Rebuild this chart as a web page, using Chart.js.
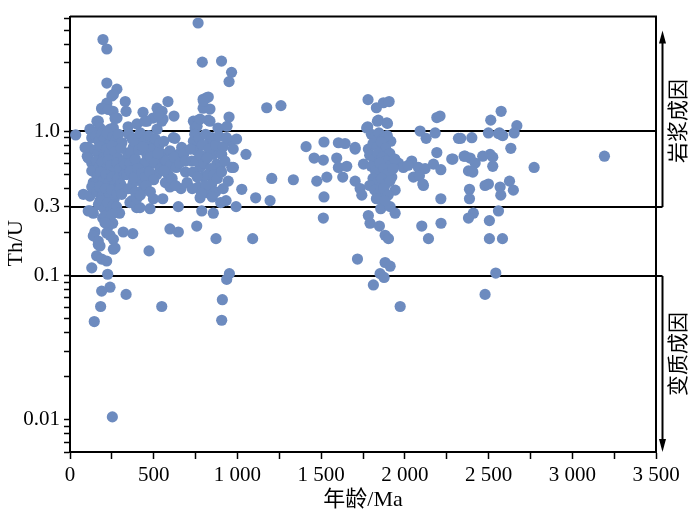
<!DOCTYPE html>
<html><head><meta charset="utf-8">
<script src="https://cdn.jsdelivr.net/npm/chart.js@4"></script>
<style>html,body{margin:0;padding:0;background:#fff}#wrap{width:700px;height:516px}</style>
</head><body><div id="wrap"><canvas id="c" width="700" height="516"></canvas></div>
<script>
const xTitle = '年龄/Ma';
const yTitle = 'Th/U';
const zoneLabels = ['岩浆成因', '变质成因'];
const xMinorTicks = [0,250,500,750,1000,1250,1500,1750,2000,2250,2500,2750,3000,3250,3500];
const xTickValues = [0,500,1000,1500,2000,2500,3000,3500];
const xTickText = ['0','500','1 000','1 500','2 000','2 500','3 000','3 500'];
const yMinorTicks = [0.006,0.007,0.008,0.009,0.01,0.02,0.03,0.04,0.05,0.06,0.07,0.08,0.09,0.1,0.2,0.3,0.4,0.5,0.6,0.7,0.8,0.9,1,2,3,4,5,6];
const yTickValues = [0.01,0.1,0.3,1];
const yTickText = ['0.01','0.1','0.3','1.0'];
const refLines = [1.0, 0.3, 0.1];

// [age Ma, Th/U]
const youngHigh = [[197,4.3],[220,3.7],[220,2.15],[280,1.95],[250,1.75],[259,1.79],[330,1.6],[220,1.56],[190,1.42],[257,1.37],[335,1.37],[189,1.44],[229,1.41],[281,1.23],[161,1.17],[169,1.17],[269,1.22],[119,1.03],[179,1.05],[239,1.03],[130,1.0],[199,1.0],[259,1.05],[347,1.07],[400,1.12],[436,1.35],[460,1.17],[496,1.23],[520,1.44],[550,1.37],[556,1.21],[520,1.03],[448,1.17],[585,1.6],[621,1.27],[548,1.17],[528,1.30]];
const youngBand = [[34,0.94],[109,0.77],[139,0.97],[130,0.90],[103,0.67],[130,0.60],[149,0.56],[159,0.50],[179,0.44],[80,0.365],[119,0.355],[109,0.28],[139,0.27],[179,0.33],[199,0.345],[90,0.77],[109,0.65],[130,0.53],[139,0.44],[130,0.41],[119,0.28],
[155,0.92],[172,0.85],[188,0.95],[205,0.88],[222,0.97],[238,0.82],[255,0.91],[272,0.86],[290,0.95],[310,0.83],
[150,0.74],[168,0.70],[185,0.78],[201,0.66],[218,0.75],[234,0.69],[252,0.79],[268,0.72],[286,0.65],[305,0.76],
[158,0.62],[176,0.57],[193,0.61],[211,0.54],[228,0.63],[245,0.58],[262,0.52],[280,0.60],[298,0.55],[320,0.62],
[165,0.49],[182,0.52],[200,0.46],[216,0.50],[233,0.44],[250,0.48],[266,0.42],[284,0.47],[302,0.43],[325,0.50],
[160,0.38],[178,0.41],[195,0.36],[212,0.40],[230,0.35],[248,0.39],[264,0.34],[282,0.37],[300,0.40],
[170,0.31],[188,0.33],[205,0.29],[224,0.32],[242,0.28],[260,0.31],[278,0.30],[296,0.27],
[195,0.25],[215,0.26],[235,0.24],[255,0.23],[230,0.22],[250,0.265],
[329,0.59],[358,0.60],[378,0.44],[438,0.395],[369,0.33],[398,0.295],[309,0.365],[478,0.29],[498,0.34],[434,0.44],[518,0.50],[498,0.81],[528,0.77],[557,0.69],[538,0.64],[458,0.69],[418,0.59],[468,0.57],[378,0.77],[398,0.90],[418,0.295],[358,0.32],[398,0.34],
[350,0.95],[372,0.88],[395,0.82],[420,0.97],[445,0.86],[470,0.93],[490,0.75],[510,0.88],[535,0.82],
[345,0.70],[365,0.72],[390,0.64],[410,0.74],[435,0.78],[455,0.62],[480,0.66],[505,0.60],[525,0.70],
[340,0.50],[360,0.53],[385,0.48],[405,0.55],[430,0.51],[450,0.48],[475,0.52],[500,0.46],[540,0.55],
[350,0.40],[390,0.38],[420,0.36],[455,0.42],[480,0.38]];
const youngLow = [[149,0.20],[139,0.188],[169,0.164],[209,0.232],[219,0.197],[259,0.152],[159,0.137],[189,0.13],[219,0.126],[130,0.113],[225,0.102],[239,0.083],[189,0.078],[335,0.074],[183,0.061],[548,0.061],[145,0.048],[253,0.0105],[169,0.173],[239,0.19],[259,0.178],[269,0.155],[179,0.16],[472,0.148],[318,0.20],[375,0.195],[597,0.21],[647,0.20]];
const neoProterozoic = [[554,0.34],[647,0.30],[663,0.40],[597,0.41],[587,0.50],[617,0.90],[667,0.77],[647,0.69],[597,0.73],[627,0.89],
[560,0.85],[575,0.62],[600,0.58],[620,0.66],[635,0.56],[655,0.60],[680,0.70],[690,0.52],[570,0.44],[610,0.47],[630,0.42],[560,0.53],[690,0.62],[700,0.44],
[737,0.85],[757,0.73],[727,0.62],[777,0.56],[797,0.48],[767,0.41],[817,0.375],[777,0.345],[836,0.85],[856,0.69],[876,0.59],[896,0.56],[826,0.50],[846,0.43],[896,0.71],[906,0.69],[956,0.85],[966,0.56],[932,0.33],[992,0.30],[787,0.28],[856,0.27],[757,0.22],[872,0.18],[976,0.56],
[747,1.05],[737,1.17],[767,1.19],[826,1.19],[759,1.08],[884,1.05],[938,1.08],[950,1.25],[836,1.17],[777,1.21],[815,1.7],[795,1.66],[795,1.44],[836,1.42],[826,1.72],[797,1.61],[790,3.0],[905,3.05],[965,2.55],[950,2.2],[765,5.6],
[952,0.103],[936,0.094],[910,0.068],[906,0.049],
[720,0.75],[745,0.95],[770,0.90],[790,0.80],[810,0.95],[830,0.75],[850,0.90],[870,0.80],[890,0.92],[915,0.78],[935,0.90],[975,0.75],[995,0.88],
[735,0.52],[755,0.62],[780,0.68],[800,0.60],[820,0.65],[840,0.55],[860,0.50],[880,0.47],[905,0.52],[925,0.62],[945,0.45],[760,0.48],[810,0.42],[870,0.38],[915,0.40],[730,0.40],[785,0.37],[850,0.35],[900,0.32]];
const mesoProterozoic = [[1051,0.69],[1026,0.395],[1175,1.45],[1260,1.5],[1205,0.47],[1334,0.46],[1109,0.345],[1195,0.33],[1091,0.18],
[1410,0.78],[1517,0.84],[1603,0.83],[1643,0.82],[1703,0.75],[1458,0.65],[1513,0.63],[1593,0.65],[1603,0.56],[1653,0.57],[1629,0.48],[1534,0.48],[1474,0.45],[1517,0.35],[1513,0.25],[1703,0.45],[1733,0.40],[1743,0.36],[1717,0.13],[1703,0.77],[1753,0.59]];
const paleoProterozoic = [[1780,1.65],[1830,1.45],[1872,1.57],[1906,1.6],[1842,1.19],[1892,1.14],[1778,1.07],[1836,1.17],[1896,1.13],[1772,1.05],
[1916,0.85],[1782,0.75],[1862,0.53],[1862,0.34],[1856,0.29],[1912,0.30],[1942,0.27],[1942,0.39],[1922,0.48],[1962,0.60],[1991,0.56],
[1800,0.95],[1820,0.90],[1845,0.97],[1870,0.88],[1895,0.93],[1810,0.82],[1835,0.78],[1860,0.84],[1885,0.76],[1910,0.70],
[1790,0.68],[1815,0.64],[1840,0.70],[1865,0.66],[1890,0.62],[1915,0.58],[1940,0.64],[1800,0.57],[1825,0.53],[1850,0.60],[1875,0.55],[1900,0.51],[1930,0.55],
[1810,0.47],[1835,0.44],[1860,0.47],[1885,0.43],[1910,0.45],[1790,0.42],[1820,0.39],[1845,0.37],[1875,0.40],[1900,0.36],[1830,0.34],[1880,0.33],
[1782,0.26],[1792,0.23],[1848,0.22],[1882,0.19],[1902,0.18],[1882,0.123],[1912,0.116],[1852,0.103],[1876,0.097],[1812,0.086],[1972,0.061],
[2191,1.24],[2210,1.27],[2091,1.0],[2127,0.89],[2181,0.97],[2320,0.89],[2041,0.62],[2081,0.56],[2121,0.55],[2171,0.59],[2215,0.54],[2051,0.48],[2111,0.42],[2087,0.49],[2191,0.71],[2280,0.64],[2215,0.34],[2101,0.22],[2141,0.18],[2216,0.23],[2287,0.64],[2107,0.43],[2020,0.58]];
const archean = [[2575,1.37],[2513,1.19],[2669,1.09],[2653,0.97],[2499,0.97],[2559,0.96],[2585,0.93],[2565,0.97],[2579,0.94],[2334,0.89],[2400,0.90],[2633,0.76],[2354,0.67],[2390,0.65],[2420,0.60],[2465,0.67],[2509,0.69],[2525,0.66],[2525,0.57],[2380,0.53],[2406,0.52],[2360,0.67],[2772,0.56],[2479,0.42],[2499,0.43],[2569,0.41],[2625,0.45],[2648,0.39],[2573,0.36],[2386,0.395],[2386,0.34],[2559,0.28],[2409,0.27],[2380,0.25],[2505,0.24],[2505,0.18],[2583,0.18],[2543,0.104],[2479,0.074],[3192,0.67]];

const allPoints = [].concat(youngHigh, youngBand, youngLow, neoProterozoic, mesoProterozoic, paleoProterozoic, archean).map(p => ({x: p[0], y: p[1]}));

const SERIF = '"Liberation Serif", "Times New Roman", serif';
const CJK = '"Noto Sans CJK SC", sans-serif';

function near(a, b) { return Math.abs(a - b) < 1e-9 * Math.max(1, Math.abs(b)); }

const deco = {
  id: 'deco',
  beforeDatasetsDraw(chart) {
    const {ctx, chartArea: a, scales: {y}} = chart;
    const arrowX = a.right + 6.5;
    ctx.save();
    ctx.strokeStyle = '#000';
    ctx.lineWidth = 2;
    ctx.beginPath();
    ctx.moveTo(a.left, a.top); ctx.lineTo(a.right, a.top); ctx.lineTo(a.right, a.bottom);
    ctx.stroke();
    refLines.forEach(v => {
      const py = Math.round(y.getPixelForValue(v));
      ctx.beginPath();
      ctx.moveTo(a.left, py);
      ctx.lineTo(v < 1 ? arrowX : a.right, py);
      ctx.stroke();
    });
    ctx.restore();
  },
  afterDraw(chart) {
    const {ctx, chartArea: a, scales: {y}} = chart;
    const arrowX = a.right + 6.5;
    const y03 = Math.round(y.getPixelForValue(0.3));
    const y01 = Math.round(y.getPixelForValue(0.1));
    const topTip = a.top + 14;
    const botTip = a.bottom;
    ctx.save();
    ctx.strokeStyle = '#000'; ctx.fillStyle = '#000'; ctx.lineWidth = 2;
    // up arrow
    ctx.beginPath(); ctx.moveTo(arrowX, y03); ctx.lineTo(arrowX, topTip + 10); ctx.stroke();
    ctx.beginPath(); ctx.moveTo(arrowX, topTip); ctx.lineTo(arrowX - 3.5, topTip + 13); ctx.lineTo(arrowX + 3.5, topTip + 13); ctx.closePath(); ctx.fill();
    // down arrow
    ctx.beginPath(); ctx.moveTo(arrowX, y01); ctx.lineTo(arrowX, botTip - 10); ctx.stroke();
    ctx.beginPath(); ctx.moveTo(arrowX, botTip); ctx.lineTo(arrowX - 3.5, botTip - 13); ctx.lineTo(arrowX + 3.5, botTip - 13); ctx.closePath(); ctx.fill();
    // zone labels
    ctx.font = '21px ' + CJK;
    ctx.textAlign = 'center'; ctx.textBaseline = 'middle';
    const zoneY = [y.getPixelForValue(1.0) - 10, (y01 + botTip) / 2 - 10];
    zoneLabels.forEach((t, i) => {
      ctx.save();
      ctx.translate(a.right + 21, zoneY[i]);
      ctx.rotate(-Math.PI / 2);
      ctx.fillText(t, 0, 0);
      ctx.restore();
    });
    // axis titles
    ctx.font = '22px ' + SERIF;
    ctx.save();
    ctx.translate(16.5, (a.top + a.bottom) / 2 + 9);
    ctx.rotate(-Math.PI / 2);
    ctx.fillText(yTitle, 0, 0);
    ctx.restore();
    ctx.font = '22px "Liberation Serif", ' + CJK;
    ctx.fillText(xTitle, (a.left + a.right) / 2, 500);
    ctx.restore();
  }
};

new Chart(document.getElementById('c'), {
  type: 'scatter',
  data: {datasets: [{data: allPoints, backgroundColor: '#6d8bbf', borderWidth: 0, pointRadius: 5.6, pointHoverRadius: 5.6}]},
  options: {
    responsive: false, animation: false, events: [],
    layout: {padding: {top: 16, right: 44, left: 0, bottom: 0}},
    plugins: {legend: {display: false}, tooltip: {enabled: false}},
    scales: {
      x: {
        type: 'linear', min: 0, max: 3500,
        afterBuildTicks: s => { s.ticks = xMinorTicks.map(v => ({value: v})); },
        ticks: {
          autoSkip: false, maxRotation: 0, padding: 4, color: '#000',
          font: {family: SERIF, size: 21},
          callback: v => { const i = xTickValues.findIndex(t => near(v, t)); return i >= 0 ? xTickText[i] : ''; }
        },
        grid: {drawOnChartArea: false, tickLength: 7, tickColor: '#000', tickWidth: 1.5},
        border: {display: true, color: '#000', width: 2},
        afterFit: s => { s.height = 64; }
      },
      y: {
        type: 'logarithmic', min: 0.006, max: 6.2,
        afterBuildTicks: s => { s.ticks = yMinorTicks.map(v => ({value: v})); },
        ticks: {
          autoSkip: false, padding: 4, color: '#000',
          font: {family: SERIF, size: 21},
          callback: v => { const i = yTickValues.findIndex(t => near(v, t)); return i >= 0 ? yTickText[i] : ''; }
        },
        grid: {drawOnChartArea: false, tickLength: 6, tickColor: '#000', tickWidth: 1.5},
        border: {display: true, color: '#000', width: 2},
        afterFit: s => { s.width = 70; }
      }
    }
  },
  plugins: [deco]
});
</script>
</body></html>
